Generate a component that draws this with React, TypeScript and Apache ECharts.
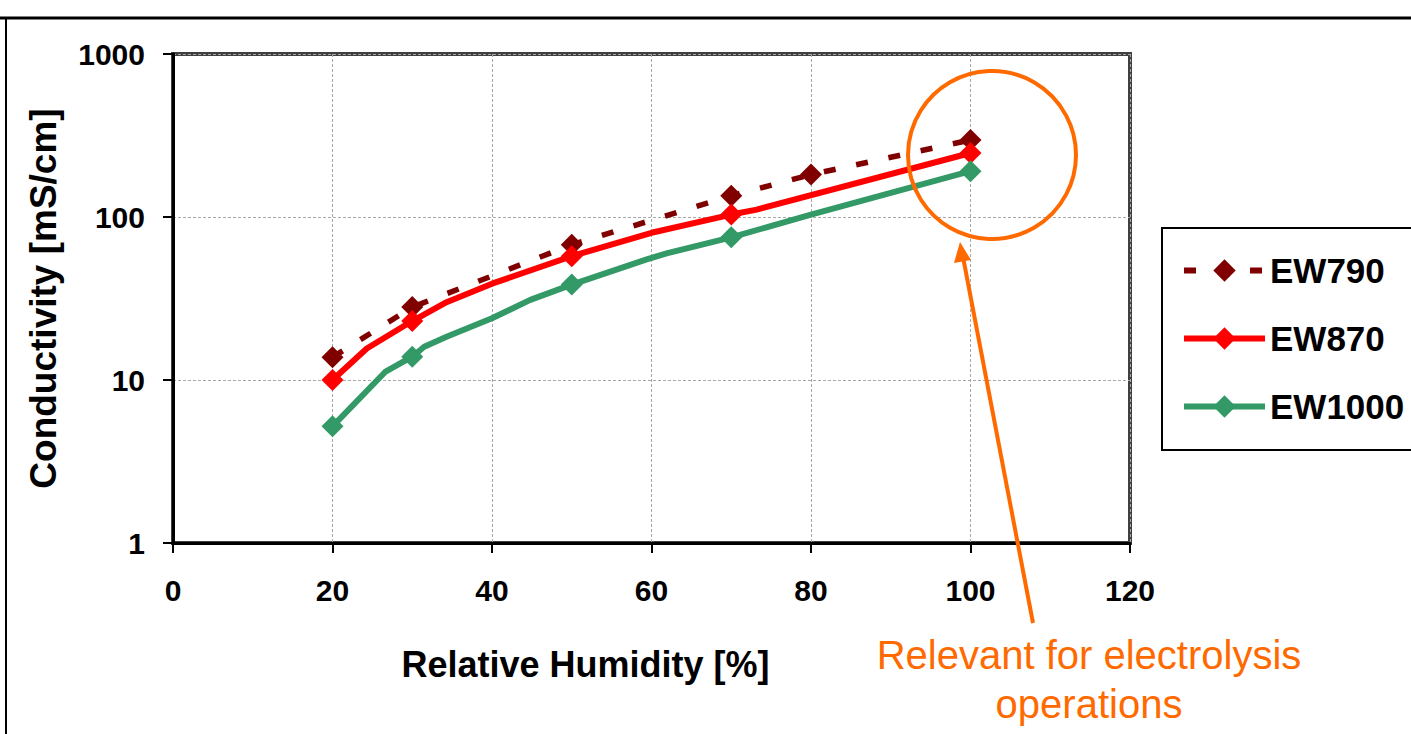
import React, { useEffect, useRef } from "react";
import * as echarts from "echarts";

// Relative humidity [%] vs conductivity [mS/cm]
const ew790Points: [number, number][] = [
  [20, 13.8], [30, 28], [50, 67.6], [70, 135], [80, 182], [100, 297],
];
const ew870Points: [number, number][] = [
  [20, 10], [24.3, 15.6], [30, 23], [34.3, 30], [40, 39], [50, 57.5],
  [60, 80], [70, 103.5], [73.2, 111], [100, 247],
];
const ew1000Points: [number, number][] = [
  [20, 5.2], [26.6, 11.2], [30, 13.9], [31.5, 16], [34.3, 18.4], [40, 23.9],
  [44.8, 31], [50, 38.5], [59.4, 55], [62, 60], [70, 75], [80, 103.5], [100, 191],
];
const ew790Marked = [20, 30, 50, 70, 80, 100];
const ew870Marked = [20, 30, 50, 70, 100];
const ew1000Marked = [20, 30, 50, 70, 100];
const seriesNames = ["EW790", "EW870", "EW1000"];
const xTicks = [0, 20, 40, 60, 80, 100, 120];
const yTicks = [1, 10, 100, 1000];

const FONT = "'Liberation Sans', Arial, sans-serif";
const ORANGE = "#FF6A00";

function toData(points: [number, number][], marked: number[]) {
  return points.map(([x, y]) => ({
    value: [x, y],
    symbol: marked.includes(x) ? "diamond" : "none",
  }));
}

export default function App() {
  const ref = useRef<HTMLDivElement>(null);
  useEffect(() => {
    if (!ref.current) return;
    const chart = echarts.init(ref.current, null, { renderer: "svg" });
    const option: any = {
      animation: false,
      backgroundColor: "#ffffff",
      textStyle: { fontFamily: FONT },
      grid: {
        left: 173,
        right: 281,
        top: 54,
        bottom: 191,
        show: true,
        borderColor: "#404040",
        borderWidth: 4,
        backgroundColor: "transparent",
      },
      xAxis: {
        type: "value",
        min: xTicks[0],
        max: xTicks[xTicks.length - 1],
        interval: 20,
        name: "Relative Humidity [%]",
        nameLocation: "middle",
        nameGap: 103,
        nameTextStyle: {
          fontFamily: FONT,
          fontSize: 36,
          fontWeight: "bold",
          color: "#000",
          padding: [0, 132, 0, 0],
        },
        axisLine: { show: true, onZero: false, lineStyle: { color: "#000", width: 3 } },
        axisTick: { show: true, inside: false, length: 10, lineStyle: { color: "#000", width: 2 } },
        axisLabel: {
          fontFamily: FONT,
          fontSize: 30,
          fontWeight: "bold",
          color: "#000",
          margin: 32,
        },
        splitLine: { show: true, lineStyle: { color: "#a8a8a8", width: 1, type: [3, 2] } },
      },
      yAxis: {
        type: "log",
        logBase: 10,
        min: yTicks[0],
        max: yTicks[yTicks.length - 1],
        name: "Conductivity [mS/cm]",
        nameLocation: "middle",
        nameGap: 111,
        nameTextStyle: {
          fontFamily: FONT,
          fontSize: 37,
          fontWeight: "bold",
          color: "#000",
        },
        axisLine: { show: true, onZero: false, lineStyle: { color: "#000", width: 3 } },
        axisTick: { show: true, inside: false, length: 10, lineStyle: { color: "#000", width: 2 } },
        minorTick: { show: false },
        axisLabel: {
          fontFamily: FONT,
          fontSize: 30,
          fontWeight: "bold",
          color: "#000",
          margin: 28,
          formatter: (v: number) => String(Math.round(v)),
        },
        splitLine: { show: true, lineStyle: { color: "#a8a8a8", width: 1, type: [3, 2] } },
      },
      legend: {
        orient: "vertical",
        left: 1176,
        top: 248,
        itemWidth: 81,
        itemHeight: 28,
        itemGap: 33,
        data: seriesNames,
        lineStyle: { width: 6 },
        textStyle: {
          fontFamily: FONT,
          fontSize: 35,
          fontWeight: "bold",
          color: "#000",
          lineHeight: 34,
          padding: [0, 0, 0, 0],
        },
      },
      series: [
        {
          name: seriesNames[0],
          type: "line",
          data: toData(ew790Points, ew790Marked),
          symbol: "diamond",
          symbolSize: 22,
          showAllSymbol: true,
          color: "#800000",
          lineStyle: { color: "#800000", width: 5.5, type: [12, 21] },
          itemStyle: { color: "#800000" },
          z: 3,
        },
        {
          name: seriesNames[1],
          type: "line",
          data: toData(ew870Points, ew870Marked),
          symbol: "diamond",
          symbolSize: 22,
          showAllSymbol: true,
          color: "#FF0000",
          lineStyle: { color: "#FF0000", width: 6 },
          itemStyle: { color: "#FF0000" },
          z: 4,
        },
        {
          name: seriesNames[2],
          type: "line",
          data: toData(ew1000Points, ew1000Marked),
          symbol: "diamond",
          symbolSize: 22,
          showAllSymbol: true,
          color: "#339966",
          lineStyle: { color: "#339966", width: 6 },
          itemStyle: { color: "#339966" },
          z: 5,
        },
      ],
      graphic: [
        // outer frame
        { type: "line", shape: { x1: 0, y1: 18, x2: 1411, y2: 18 }, style: { stroke: "#000", lineWidth: 3 } },
        { type: "line", shape: { x1: 6, y1: 18, x2: 6, y2: 734 }, style: { stroke: "#000", lineWidth: 2 } },
        // legend box
        { type: "rect", shape: { x: 1162, y: 228, width: 270, height: 222 }, style: { fill: "none", stroke: "#000", lineWidth: 2 }, z: -1 },
        // annotation circle
        { type: "circle", shape: { cx: 992, cy: 155, r: 84 }, style: { fill: "none", stroke: ORANGE, lineWidth: 4 }, z: 10 },
        // arrow
        { type: "line", shape: { x1: 1033, y1: 623, x2: 963, y2: 257 }, style: { stroke: ORANGE, lineWidth: 4 }, z: 10 },
        { type: "polygon", shape: { points: [[960, 242], [971, 260], [954, 263]] }, style: { fill: ORANGE }, z: 10 },
        {
          type: "text", x: 1089, y: 655, z: 10,
          style: { text: "Relevant for electrolysis", fontFamily: FONT, fontSize: 40, fill: ORANGE, textAlign: "center", textVerticalAlign: "middle" },
        },
        {
          type: "text", x: 1089, y: 704, z: 10,
          style: { text: "operations", fontFamily: FONT, fontSize: 40, fill: ORANGE, textAlign: "center", textVerticalAlign: "middle" },
        },
      ],
    };
    chart.setOption(option);
    return () => chart.dispose();
  }, []);
  return <div ref={ref} style={{ width: 1411, height: 734, position: "absolute", left: 0, top: 0 }} />;
}
